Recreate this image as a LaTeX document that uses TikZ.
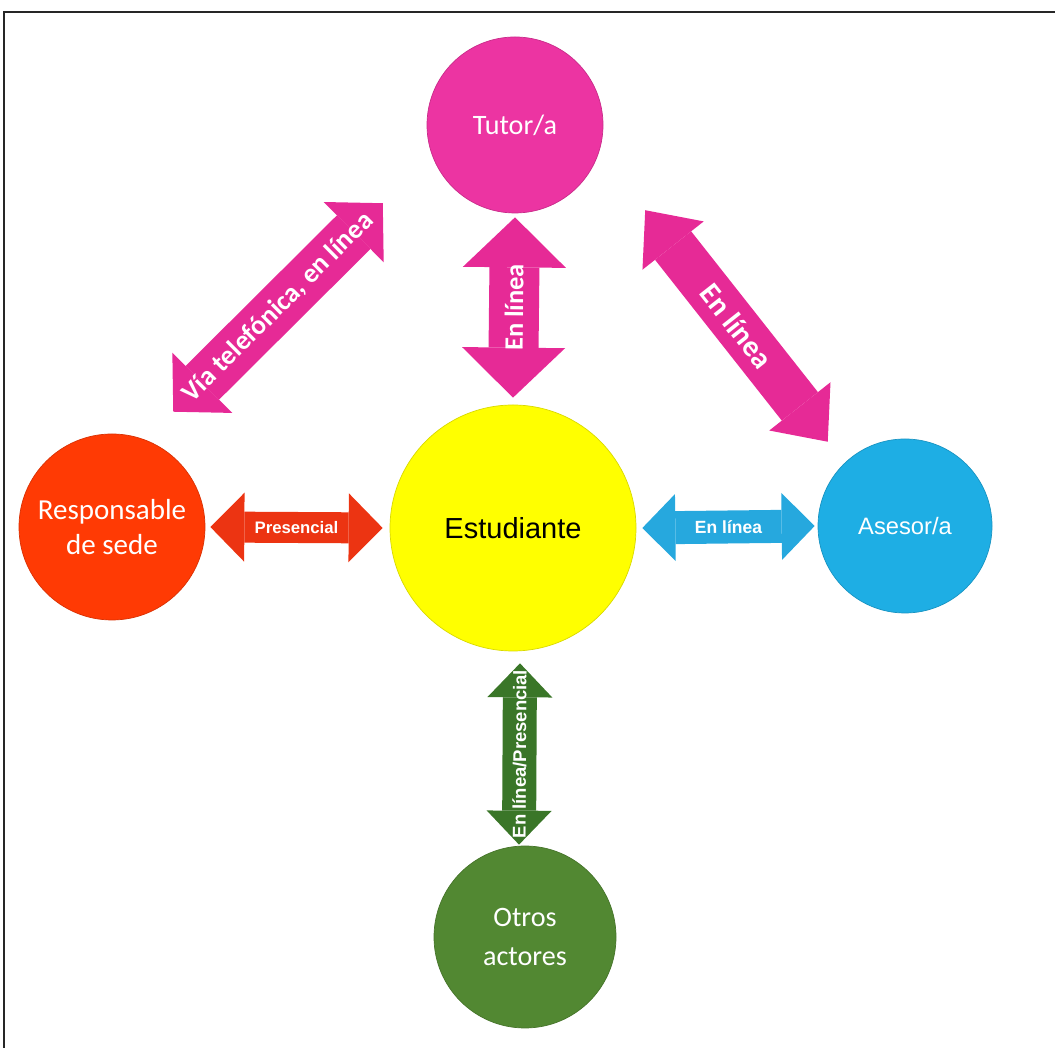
\documentclass[tikz,border=0pt]{standalone}
\usepackage{fontspec}
\setmainfont{Carlito}
\newfontfamily\arialfont{Liberation Sans}
\usetikzlibrary{arrows.meta}

\definecolor{rosaC}{RGB}{236,52,162}
\definecolor{rosaF}{RGB}{230,42,150}
\definecolor{rojoC}{RGB}{255,58,4}
\definecolor{rojoF}{RGB}{236,52,18}
\definecolor{azulC}{RGB}{30,174,228}
\definecolor{azulF}{RGB}{38,168,222}
\definecolor{verdeC}{RGB}{82,136,50}
\definecolor{verdeF}{RGB}{58,118,40}
\definecolor{amarillo}{RGB}{255,255,0}

\tikzset{
  actor/.style={circle, inner sep=0pt, align=center, fill=#1, draw=#1!85!black, thin},
  dflecha/.style n args={4}{line width=#1, color=#2,
    {Triangle[width=#3,length=#4,line width=0pt]}-{Triangle[width=#3,length=#4,line width=0pt]}},
  etiq/.style={midway, sloped, inner sep=0pt, text=white, font=\bfseries\fontsize{#1}{15}\selectfont},
  etiqb/.style={midway, sloped, inner sep=0pt, text=white, font=\arialfont\bfseries\fontsize{#1}{11}\selectfont},
}

\begin{document}
\begin{tikzpicture}
				\useasboundingbox (0,0) rectangle (21.1,20.96);
				
				% frame
				\draw[line width=1pt, black!85] (0.08,0) -- (0.08,20.72) -- (21.1,20.72);
				
				% Actors
				\node[actor=rosaC, minimum size=3.52cm, text=white, font=\fontsize{16}{19}\selectfont] (tutor) at (10.30, 18.46) {Tutor/a};
				\node[actor=amarillo, minimum size=4.92cm, text=black, font=\arialfont\fontsize{16.5}{19}\selectfont] (est) at (10.26, 10.40) {Estudiante};
				\node[actor=rojoC, minimum size=3.72cm, text=white, font=\fontsize{16.5}{20}\selectfont] (resp) at (2.24, 10.42) {Responsable\\de sede};
				\node[actor=azulC, minimum size=3.48cm, text=white, font=\arialfont\fontsize{13.5}{16}\selectfont] (ases) at (18.10, 10.44) {Asesor/a};
				\node[actor=verdeC, minimum size=3.64cm, text=white, font=\fontsize{16}{22}\selectfont] (otros) at (10.50, 2.22) {Otros\\actores};
				
				% Arrows
				\draw[dflecha={1cm}{rosaF}{2.06cm}{1cm}] ([yshift=0.14cm]est.north) -- ([yshift=-0.08cm]tutor.south)
					node[etiq=15] {En línea};
				\draw[dflecha={0.95cm}{rosaF}{1.7cm}{0.82cm}] ([shift={(-0.095,0.985)}]resp.north east) -- ([shift={(-1.395,-0.315)}]tutor.south west)
					node[etiq=15.5] {Vía telefónica, en línea};
				\draw[dflecha={0.92cm}{rosaF}{1.56cm}{0.9cm}] ([shift={(1.355,-0.455)}]tutor.south east) -- ([shift={(-0.31,0.45)}]ases.north west)
					node[etiq=17] {En línea};
				\draw[dflecha={0.62cm}{rojoF}{1.38cm}{0.68cm}] ([xshift=0.1cm]resp.east) -- ([xshift=-0.14cm]est.west)
					node[etiqb=9.5] {Presencial};
				\draw[dflecha={0.66cm}{azulF}{1.34cm}{0.66cm}] ([xshift=0.12cm]est.east) -- ([xshift=-0.06cm]ases.west)
					node[etiqb=10] {En línea};
				\draw[dflecha={0.68cm}{verdeF}{1.3cm}{0.68cm}] ([shift={(-0.12,0.02)}]otros.north) -- ([shift={(0.14,-0.24)}]est.south)
					node[etiqb=10.5] {En línea/Presencial};
			\end{tikzpicture}
\end{document}
